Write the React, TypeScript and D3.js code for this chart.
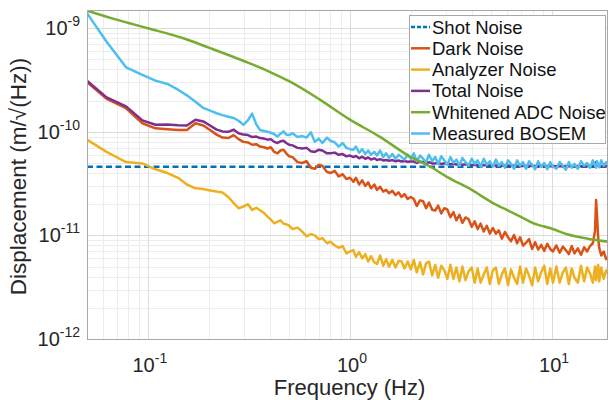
import * as d3 from "d3";
import React, { useRef, useEffect } from "react";

const W = 609;
const H = 400;
const margin = { top: 10, right: 1, bottom: 61, left: 87 };
const FONT = "'Liberation Sans', Arial, Helvetica, sans-serif";

// frequency bins (Hz) shared by the measured spectra
const freq = [
  0.05, 0.0625, 0.078, 0.094, 0.109, 0.125, 0.141, 0.156, 0.172, 0.188, 0.203, 0.219, 0.234, 0.25, 0.266,
  0.281, 0.297, 0.313, 0.328, 0.344, 0.359, 0.375, 0.391, 0.406, 0.422, 0.438, 0.453, 0.469, 0.484, 0.5,
  0.52, 0.55, 0.58, 0.61, 0.64, 0.67, 0.7, 0.73, 0.77, 0.8, 0.84, 0.88, 0.92, 0.96, 1.0,
  1.04, 1.07, 1.11, 1.15, 1.19, 1.23, 1.27, 1.32, 1.36, 1.41, 1.46, 1.51, 1.56, 1.62, 1.68, 1.74, 1.8, 1.86, 1.93, 2.0,
  2.07, 2.14, 2.22, 2.3, 2.38, 2.46, 2.55, 2.64, 2.73, 2.83, 2.93, 3.03, 3.14, 3.25, 3.36, 3.48, 3.6, 3.73, 3.86, 4.0,
  4.14, 4.28, 4.43, 4.59, 4.75, 4.92, 5.09,
  5.27, 5.45, 5.64, 5.84, 6.05, 6.26, 6.48, 6.71, 6.94, 7.18, 7.43, 7.69, 7.96, 8.24, 8.53, 8.83, 9.14, 9.46, 9.79, 10.1,
  10.5, 10.9, 11.3, 11.7, 12.1, 12.5, 12.9, 13.4, 13.9, 14.4, 14.9, 15.4, 15.9, 16.3, 16.5, 16.7, 16.9, 17.1, 17.5, 18.0, 18.5, 19.0,
];

// amplitude spectral densities in pm/sqrt(Hz)
const darkNoise = [
  302, 208, 169, 121, 108, 106, 104, 104, 121, 115, 104, 94, 88, 87, 93,
  85, 80, 79, 75, 76, 72, 71, 69, 71, 64, 62, 66, 67, 62, 58,
  57, 51, 50, 52, 45, 44, 48, 47, 41, 40, 42, 37, 39, 35, 36,
  33, 36, 31, 34, 30, 32.5, 28.5, 31, 27.5, 29.5, 26.5, 27.5, 25.5, 27, 24.5, 26, 23.5, 25, 22.5, 23.5,
  22.5, 19.2, 21.8, 21.4, 18.3, 20.8, 17.7, 17.4, 19.4, 16.3, 18.3, 17.8, 15.0, 16.8, 14.0, 15.8, 13.2, 14.9, 14.4, 12.1,
  13.7, 11.5, 13.0, 10.9, 12.4, 10.4, 11.8,
  10.4, 11.2, 9.3, 10.8, 9.6, 8.8, 10.1, 8.4, 9.6, 8.0, 8.5, 9.2, 7.4, 8.6, 7.3, 8.1, 7.1, 8.3, 7.4, 7.0,
  8.0, 6.8, 7.8, 7.2, 6.6, 7.9, 6.7, 7.5, 6.5, 7.7, 7.0, 7.9, 8.4, 11, 22, 15, 9.5, 7.6, 6.4, 7.0, 5.9, 6.2,
];

const analyzerNoise = [
  84, 64, 51, 49.5, 43.5, 40, 36, 31, 28.5, 28, 27.2, 26.5, 26, 23.5, 20.5,
  18.3, 19, 20, 17.6, 18.5, 17.5, 16.5, 15.2, 14.2, 13.1, 13.6, 14, 13, 12.8, 12.4,
  11.5, 11.9, 10.9, 9.8, 10.3, 10.0, 9.2, 9.4, 8.4, 8.7, 8.0, 7.6, 7.9, 6.7, 7.0,
  7.2, 6.2, 6.9, 6.0, 6.6, 5.6, 6.3, 5.5, 5.3, 6.4, 5.1, 5.9, 5.0, 5.8, 4.9, 5.7, 5.6, 4.8, 5.6, 4.7,
  5.8, 4.4, 5.5, 4.2, 5.4, 5.6, 4.1, 5.2, 3.9, 5.1, 4.6, 3.8, 5.2, 3.8, 4.9, 3.6, 5.0, 3.7, 4.5, 4.9,
  3.5, 4.8, 3.5, 4.2, 4.9, 3.4, 4.6,
  4.9, 3.4, 4.2, 4.8, 3.3, 4.7, 3.9, 3.4, 5.0, 3.5, 4.8, 4.1, 3.3, 4.9, 3.6, 4.4, 5.1, 3.4, 4.8, 3.5,
  5.0, 3.5, 4.4, 4.9, 3.4, 4.8, 3.9, 3.5, 5.1, 3.6, 4.9, 4.3, 3.5, 5.0, 3.7, 4.6, 5.2, 3.6, 4.9, 3.8, 4.6, 4.3,
];

const totalNoise = [
  311, 215, 176, 129, 117, 118, 116, 115, 131, 126, 115, 105, 101, 100, 105,
  97, 94, 93, 89, 90, 87, 86, 84, 85, 80, 78, 81, 82, 78, 75,
  74, 70, 69, 70, 65, 64, 67, 66, 62, 62, 63, 60, 61, 58, 59,
  57, 58.5, 55.5, 57.5, 55, 56.5, 54, 55.5, 53.5, 54.5, 53, 53.5, 52.5, 53.3, 52, 52.8, 51.7, 52.3, 51.4, 51.7,
  51.6, 50.1, 51.3, 51.2, 49.7, 50.9, 49.5, 49.4, 50.2, 49.0, 49.7, 49.5, 48.6, 49.2, 48.3, 48.9, 48.1, 48.6, 48.4, 47.8,
  48.2, 47.6, 48.0, 47.5, 47.8, 47.4, 47.7,
  47.2, 47.6, 47.1, 47.5, 47.4, 46.9, 47.2, 46.8, 47.1, 46.8, 47.0, 47.0, 46.7, 46.9, 46.7, 46.9, 46.6, 46.9, 46.6, 46.8,
  46.6, 46.8, 46.6, 46.8, 46.6, 46.7, 46.5, 46.7, 46.5, 46.7, 46.6, 46.8, 46.8, 47.5, 51.1, 48.6, 47.1, 46.8, 46.6, 46.6, 46.5, 46.5,
];

const measuredBosem = [
  1400, 740, 420, 355, 312, 290, 255, 225, 195, 170, 160, 151, 145, 140, 136,
  128, 117, 130, 150, 118, 104, 102, 100, 98, 95, 90, 96, 101, 94, 93,
  97, 89, 91, 88, 99, 80, 86, 78, 88, 82, 79, 72, 78, 70, 68,
  67, 72, 63, 68, 61, 66, 60, 64, 59, 66, 57, 62, 56, 61, 55, 60, 57, 54, 60, 55,
  62, 52, 59, 55, 51, 60, 52, 57, 49, 58, 53, 48, 57, 50, 54, 47, 56, 51, 47, 55,
  49, 53, 46, 55, 48, 52, 46,
  54, 47, 51, 45, 53, 49, 44, 53, 47, 51, 44, 52, 48, 43.5, 52, 46, 50, 43.5, 51, 46,
  44, 51, 47, 43, 51, 45, 49, 44, 52, 47, 50, 45, 53, 47, 45, 52, 48, 45.5, 53, 47, 51, 47,
];

// smooth model curves
const adcFreq = [0.05, 0.07, 0.1, 0.15, 0.2, 0.3, 0.4, 0.5, 0.7, 1, 1.4, 2, 2.5, 3, 4, 5, 6, 7, 8, 10, 12, 15, 19];
const adcNoise = [1480, 1210, 1000, 800, 650, 480, 380, 308, 208, 131, 90, 57, 46, 37, 27.5, 21, 17.5, 15.1, 13.2, 11.6, 10.2, 9.3, 8.7];
const shotFreq = [0.05, 19];
const shotNoise = [46, 46];

const xTicks = [0.1, 1, 10];
const yTicks = [1e-12, 1e-11, 1e-10, 1e-9];

const legendItems = [
  { name: "Shot Noise", f: shotFreq, v: shotNoise, color: "#0072BD", dash: "6,3.5" },
  { name: "Dark Noise", f: freq, v: darkNoise, color: "#D95319", dash: null },
  { name: "Analyzer Noise", f: freq, v: analyzerNoise, color: "#EDB120", dash: null },
  { name: "Total Noise", f: freq, v: totalNoise, color: "#7E2F8E", dash: null },
  { name: "Whitened ADC Noise", f: adcFreq, v: adcNoise, color: "#77AC30", dash: null },
  { name: "Measured BOSEM", f: freq, v: measuredBosem, color: "#4DBEEE", dash: null },
];
// ADC curve sits on top of the others
const drawOrder = [0, 1, 2, 3, 5, 4];

function NoiseChart() {
  const ref = useRef<SVGSVGElement>(null);

  useEffect(() => {
    const svg = d3.select(ref.current);
    svg.selectAll("*").remove();

    const left = margin.left;
    const right = W - margin.right;
    const top = margin.top;
    const bottom = H - margin.bottom;

    const x = d3.scaleLog().domain([0.05, 18.9]).range([left, right]);
    const y = d3.scaleLog().domain([1e-12, 1.5e-9]).range([bottom, top]);

    svg.append("rect").attr("width", W).attr("height", H).attr("fill", "#fff");

    // grid
    const xMinor: number[] = [];
    const yMinor: number[] = [];
    for (let e = -2; e <= 1; e++) {
      for (let k = 2; k <= 9; k++) {
        const v = k * Math.pow(10, e);
        if (v > 0.0501 && v < 18.9) xMinor.push(v);
      }
    }
    for (let e = -12; e <= -10; e++) {
      for (let k = 2; k <= 9; k++) yMinor.push(k * Math.pow(10, e));
    }
    const grid = svg.append("g");
    grid
      .selectAll("line.xm")
      .data(xMinor)
      .enter()
      .append("line")
      .attr("x1", (d) => Math.round(x(d)) + 0.5)
      .attr("x2", (d) => Math.round(x(d)) + 0.5)
      .attr("y1", top)
      .attr("y2", bottom)
      .attr("stroke", "#ececec");
    grid
      .selectAll("line.ym")
      .data(yMinor)
      .enter()
      .append("line")
      .attr("y1", (d) => Math.round(y(d)) + 0.5)
      .attr("y2", (d) => Math.round(y(d)) + 0.5)
      .attr("x1", left)
      .attr("x2", right)
      .attr("stroke", "#ececec");
    grid
      .selectAll("line.xM")
      .data(xTicks)
      .enter()
      .append("line")
      .attr("x1", (d) => Math.round(x(d)) + 0.5)
      .attr("x2", (d) => Math.round(x(d)) + 0.5)
      .attr("y1", top)
      .attr("y2", bottom)
      .attr("stroke", "#dcdcdc");
    grid
      .selectAll("line.yM")
      .data(yTicks)
      .enter()
      .append("line")
      .attr("y1", (d) => Math.round(y(d)) + 0.5)
      .attr("y2", (d) => Math.round(y(d)) + 0.5)
      .attr("x1", left)
      .attr("x2", right)
      .attr("stroke", "#dcdcdc");

    // data
    svg
      .append("clipPath")
      .attr("id", "plotClip")
      .append("rect")
      .attr("x", left)
      .attr("y", top)
      .attr("width", right - left)
      .attr("height", bottom - top);

    const plot = svg.append("g").attr("clip-path", "url(#plotClip)");
    drawOrder.forEach((idx) => {
      const s = legendItems[idx];
      const line = d3
        .line<number>()
        .x((d, i) => x(s.f[i]))
        .y((d) => y(d * 1e-12));
      if (s.f === adcFreq) line.curve(d3.curveMonotoneX);
      plot
        .append("path")
        .attr("d", line(s.v))
        .attr("fill", "none")
        .attr("stroke", s.color)
        .attr("stroke-width", 2.5)
        .attr("stroke-linejoin", "round")
        .attr("stroke-dasharray", s.dash);
    });

    // axes box
    svg
      .append("rect")
      .attr("x", left + 0.5)
      .attr("y", top + 0.5)
      .attr("width", right - left - 1)
      .attr("height", bottom - top)
      .attr("fill", "none")
      .attr("stroke", "#a8a8a8");

    // tick labels
    const xl = svg
      .selectAll("text.xt")
      .data(xTicks)
      .enter()
      .append("text")
      .attr("x", (d) => x(d) + 2)
      .attr("y", bottom + 33)
      .attr("text-anchor", "middle")
      .attr("font-family", FONT)
      .attr("font-size", 20)
      .attr("fill", "#262626");
    xl.append("tspan").text("10");
    xl.append("tspan")
      .attr("dy", -9)
      .attr("font-size", 14)
      .text((d) => String(Math.round(Math.log10(d))));

    const yl = svg
      .selectAll("text.yt")
      .data(yTicks)
      .enter()
      .append("text")
      .attr("x", left - 7)
      .attr("y", (d) => y(d) + 7)
      .attr("text-anchor", "end")
      .attr("font-family", FONT)
      .attr("font-size", 20)
      .attr("fill", "#262626");
    yl.append("tspan").text("10");
    yl.append("tspan")
      .attr("dy", -9)
      .attr("font-size", 14)
      .text((d) => String(Math.round(Math.log10(d))));

    // axis titles
    svg
      .append("text")
      .attr("x", (left + right) / 2 + 2)
      .attr("y", 395)
      .attr("text-anchor", "middle")
      .attr("font-family", FONT)
      .attr("font-size", 22)
      .attr("fill", "#262626")
      .text("Frequency (Hz)");
    svg
      .append("text")
      .attr("transform", `translate(26,${(top + bottom) / 2 + 2}) rotate(-90)`)
      .attr("text-anchor", "middle")
      .attr("font-family", FONT)
      .attr("font-size", 22.5)
      .attr("fill", "#262626")
      .text("Displacement (m/\u221A(Hz))");

    // legend
    const lg = svg.append("g");
    lg.append("rect")
      .attr("x", 409.5)
      .attr("y", 15.5)
      .attr("width", 196)
      .attr("height", 128)
      .attr("fill", "#fff")
      .attr("stroke", "#a8a8a8");
    legendItems.forEach((s, i) => {
      const cy = 27 + i * 21.3;
      lg.append("line")
        .attr("x1", 411)
        .attr("x2", 430)
        .attr("y1", cy)
        .attr("y2", cy)
        .attr("stroke", s.color)
        .attr("stroke-width", 2.5)
        .attr("stroke-dasharray", s.dash ? "4,2" : null);
      lg.append("text")
        .attr("x", 432)
        .attr("y", cy + 6.5)
        .attr("font-family", FONT)
        .attr("font-size", 18.5)
        .attr("fill", "#111")
        .text(s.name);
    });
  }, []);

  return <svg ref={ref} width={W} height={H} style={{ position: "absolute", left: 0, top: 0 }}></svg>;
}

export default function App() {
  return <NoiseChart />;
}
